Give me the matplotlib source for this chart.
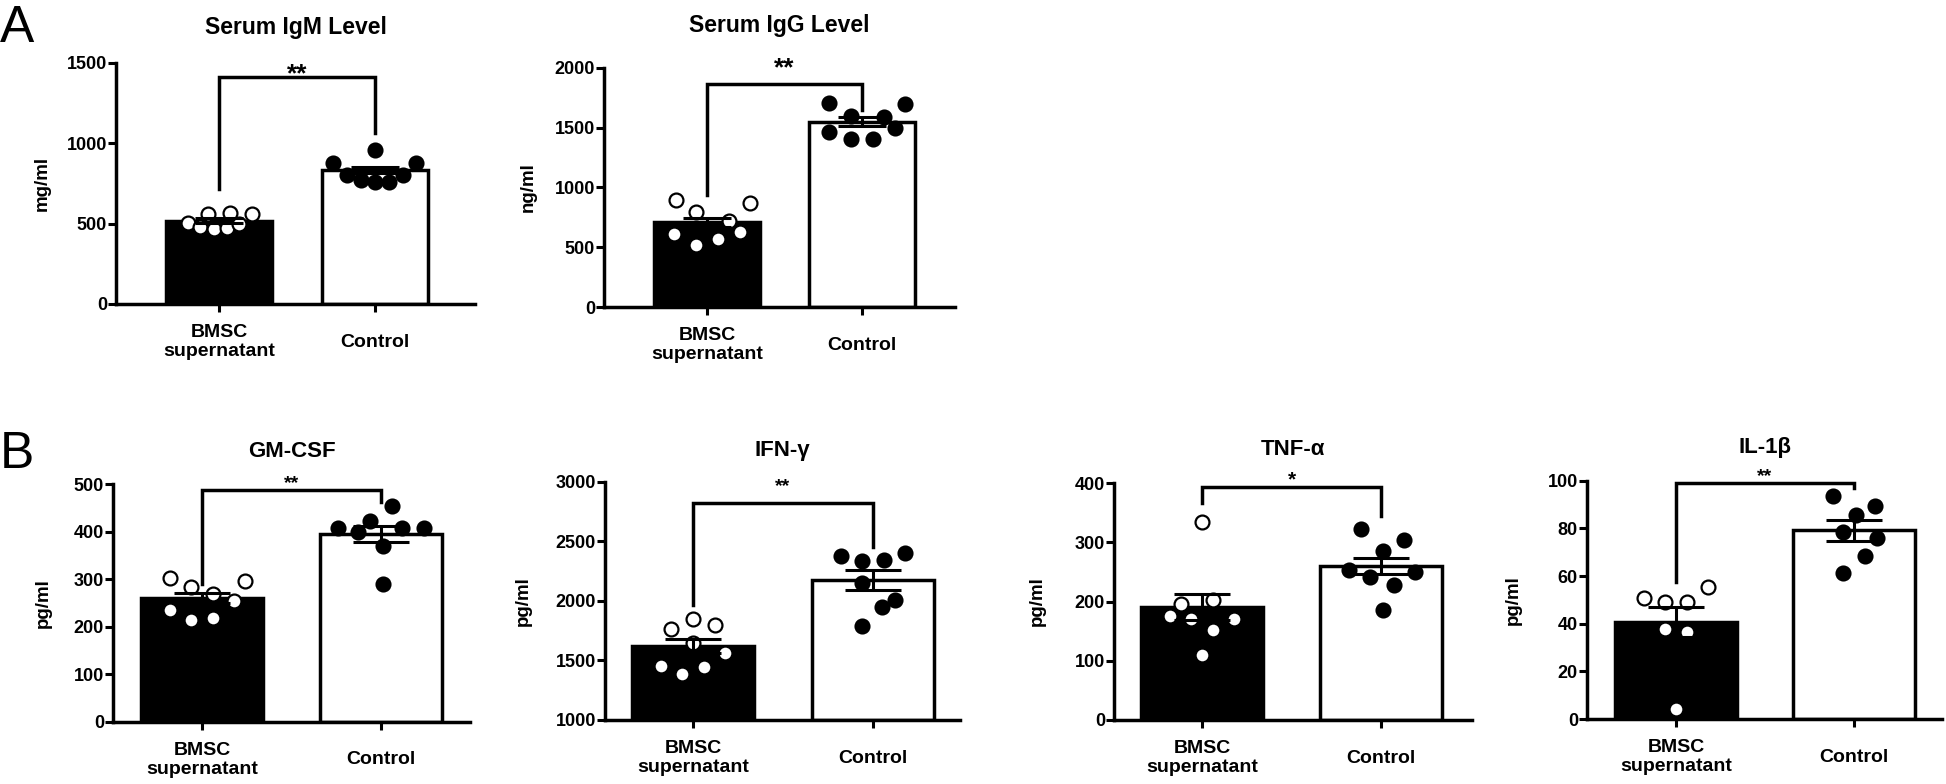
import matplotlib
matplotlib.use('Agg')
import matplotlib.pyplot as plt

plt.rcParams['font.family'] = ['Liberation Sans', 'DejaVu Sans']
plt.rcParams['font.weight'] = 'bold'

W, H = 1946, 784
fig = plt.figure(figsize=(W / 100, H / 100), dpi=100)

groups = ['BMSC\nsupernatant', 'Control']

# ---- data ----
igm_bmsc = [505, 481, 557, 464, 563, 474, 495, 557]
igm_ctrl = [878, 802, 771, 957, 760, 760, 802, 874]
igm_mean = [518, 833]
igm_sem = [14, 20]

igg_bmsc = [896, 796, 609, 520, 567, 720, 626, 868]
igg_ctrl = [1708, 1597, 1460, 1402, 1402, 1591, 1499, 1697]
igg_mean = [707, 1547]
igg_sem = [36, 38]

gm_bmsc = [302, 283, 270, 297, 235, 214, 218, 255]
gm_ctrl = [409, 400, 423, 455, 409, 409, 369, 289]
gm_mean = [260, 395]
gm_sem = [11, 17]

ifn_bmsc = [1761, 1845, 1797, 1643, 1559, 1453, 1383, 1448]
ifn_ctrl = [2379, 2334, 2343, 2404, 2152, 2007, 1951, 1789]
ifn_mean = [1621, 2175]
ifn_sem = [56, 82]

tnf_bmsc = [334, 195, 202, 176, 170, 170, 152, 109]
tnf_ctrl = [322, 304, 286, 254, 241, 228, 249, 186]
tnf_mean = [190, 260]
tnf_sem = [22, 14]

il_bmsc = [50.7, 48.9, 49.0, 55.6, 37.7, 36.7, 4.2]
il_ctrl = [93.6, 89.4, 85.6, 78.6, 75.8, 68.6, 61.2]
il_mean = [40.6, 79.3]
il_sem = [6.3, 4.4]

# horizontal scatter of the dots (fraction of category spacing)
igm_bmsc_dx = [-0.20, -0.12, -0.07, -0.03, 0.07, 0.05, 0.13, 0.21]
igm_ctrl_dx = [-0.27, -0.18, -0.09, 0.0, 0.0, 0.09, 0.18, 0.26]
igg_bmsc_dx = [-0.20, -0.07, -0.21, -0.07, 0.07, 0.14, 0.21, 0.28]
igg_ctrl_dx = [-0.21, -0.07, -0.21, -0.07, 0.07, 0.14, 0.21, 0.28]
gm_bmsc_dx = [-0.18, -0.06, 0.06, 0.24, -0.18, -0.06, 0.06, 0.18]
gm_ctrl_dx = [-0.24, -0.13, -0.06, 0.06, 0.12, 0.24, 0.01, 0.01]
ifn_bmsc_dx = [-0.12, 0.0, 0.12, 0.0, 0.18, -0.18, -0.06, 0.06]
ifn_ctrl_dx = [-0.18, -0.06, 0.06, 0.18, -0.06, 0.12, 0.05, -0.06]
tnf_bmsc_dx = [0.0, -0.12, 0.06, -0.18, -0.06, 0.18, 0.06, 0.0]
tnf_ctrl_dx = [-0.11, 0.13, 0.01, -0.18, -0.06, 0.07, 0.19, 0.01]
il_bmsc_dx = [-0.18, -0.06, 0.06, 0.18, -0.06, 0.06, 0.0]
il_ctrl_dx = [-0.12, 0.12, 0.01, -0.06, 0.13, 0.06, -0.06]


def panel(box, title, ylab, ylab_x, ylim, yticks, bmsc, ctrl, bdx, cdx,
          mean, sem, bracket, stars, star_y, title_pad, title_fs, star_fs,
          capsize):
    left, right, top, bottom, x0, unit = box
    ax = fig.add_axes([left / W, 1 - bottom / H, (right - left) / W,
                       (bottom - top) / H])
    ax.set_xlim((left - x0) / unit, (right - x0) / unit)
    ax.set_ylim(*ylim)
    base = ylim[0]
    ax.bar([0, 1], [m - base for m in mean], bottom=base, width=0.68,
           color=['black', 'white'], edgecolor='black', linewidth=2.5,
           zorder=1)
    ax.scatter([0 + d for d in bdx], bmsc, s=100, facecolor='white',
               edgecolor='black', linewidth=1.6, zorder=2, clip_on=False)
    ax.scatter([1 + d for d in cdx], ctrl, s=100, facecolor='black',
               edgecolor='black', linewidth=1.6, zorder=2, clip_on=False)
    ax.errorbar([0, 1], mean, yerr=sem, fmt='none', ecolor='black',
                elinewidth=2.2, capsize=capsize, capthick=2.2, zorder=3)
    # significance bracket
    y0, ytop, y1 = bracket
    ax.plot([0, 0, 1, 1], [y0, ytop, ytop, y1], color='black', lw=2.5,
            clip_on=False, zorder=4, solid_joinstyle='miter')
    ax.text(0.5, star_y, stars, ha='center', va='baseline',
            fontsize=star_fs, fontweight='bold', clip_on=False)

    for s in ['top', 'right']:
        ax.spines[s].set_visible(False)
    for s in ['left', 'bottom']:
        ax.spines[s].set_linewidth(2.5)
    ax.set_yticks(yticks)
    ax.set_xticks([0, 1])
    ax.set_xticklabels(groups, fontsize=14, fontweight='bold')
    for lbl in ax.get_xticklabels():
        lbl.set_verticalalignment('center')
    ax.tick_params(axis='x', length=5.5, width=2.2, pad=22)
    ax.tick_params(axis='y', length=5.5, width=2.2, pad=1, labelsize=13)
    ax.set_title(title, fontsize=title_fs, fontweight='bold', pad=title_pad)
    fig.text(ylab_x / W, 1 - ((top + bottom) / 2) / H, ylab, rotation=90,
             ha='center', va='center', fontsize=13.5, fontweight='bold')
    return ax


# row A
panel((116, 475, 62.7, 304, 219, 156), 'Serum IgM Level', 'mg/ml', 42,
      (0, 1500), [0, 500, 1000, 1500], igm_bmsc, igm_ctrl, igm_bmsc_dx,
      igm_ctrl_dx, igm_mean, igm_sem, (713, 1409, 1060), '**', 1385,
      21, 16.5, 19, 17)
panel((604, 955, 67.7, 307, 707, 155), 'Serum IgG Level', 'ng/ml', 528,
      (0, 2000), [0, 500, 1000, 1500, 2000], igg_bmsc, igg_ctrl,
      igg_bmsc_dx, igg_ctrl_dx, igg_mean, igg_sem, (937, 1864, 1647), '**',
      1937, 25.5, 16.5, 19, 17)

# row B
panel((113, 470, 484.3, 721.7, 202, 179), 'GM-CSF', 'pg/ml', 43,
      (0, 500), [0, 100, 200, 300, 400, 500], gm_bmsc, gm_ctrl, gm_bmsc_dx,
      gm_ctrl_dx, gm_mean, gm_sem, (291, 489, 463), '**', 493,
      20, 16, 14, 20)
panel((605, 960, 481.7, 720, 693, 180), 'IFN-γ', 'pg/ml', 523,
      (1000, 3000), [1000, 1500, 2000, 2500, 3000], ifn_bmsc, ifn_ctrl,
      ifn_bmsc_dx, ifn_ctrl_dx, ifn_mean, ifn_sem, (1965, 2818, 2449), '**',
      2920, 18.5, 16, 14, 20)
panel((1114, 1472, 483, 720, 1202, 179), 'TNF-α', 'pg/ml', 1037,
      (0, 400), [0, 100, 200, 300, 400], tnf_bmsc, tnf_ctrl, tnf_bmsc_dx,
      tnf_ctrl_dx, tnf_mean, tnf_sem, (366, 393, 344), '*', 396,
      20, 16, 15, 20)
panel((1587, 1942, 480.7, 719, 1676, 178), 'IL-1β', 'pg/ml', 1513,
      (0, 100), [0, 20, 40, 60, 80, 100], il_bmsc, il_ctrl, il_bmsc_dx,
      il_ctrl_dx, il_mean, il_sem, (57.7, 98.9, 96.8), '**', 99.7,
      20, 16, 14, 20)

# panel letters
fig.text(0.0, 1 - 41.7 / H, 'A', fontsize=37, fontweight='normal',
         va='baseline', ha='left')
fig.text(0.0, 1 - 468 / H, 'B', fontsize=37, fontweight='normal',
         va='baseline', ha='left')

fig.savefig('out.png', dpi=100, facecolor='white')
